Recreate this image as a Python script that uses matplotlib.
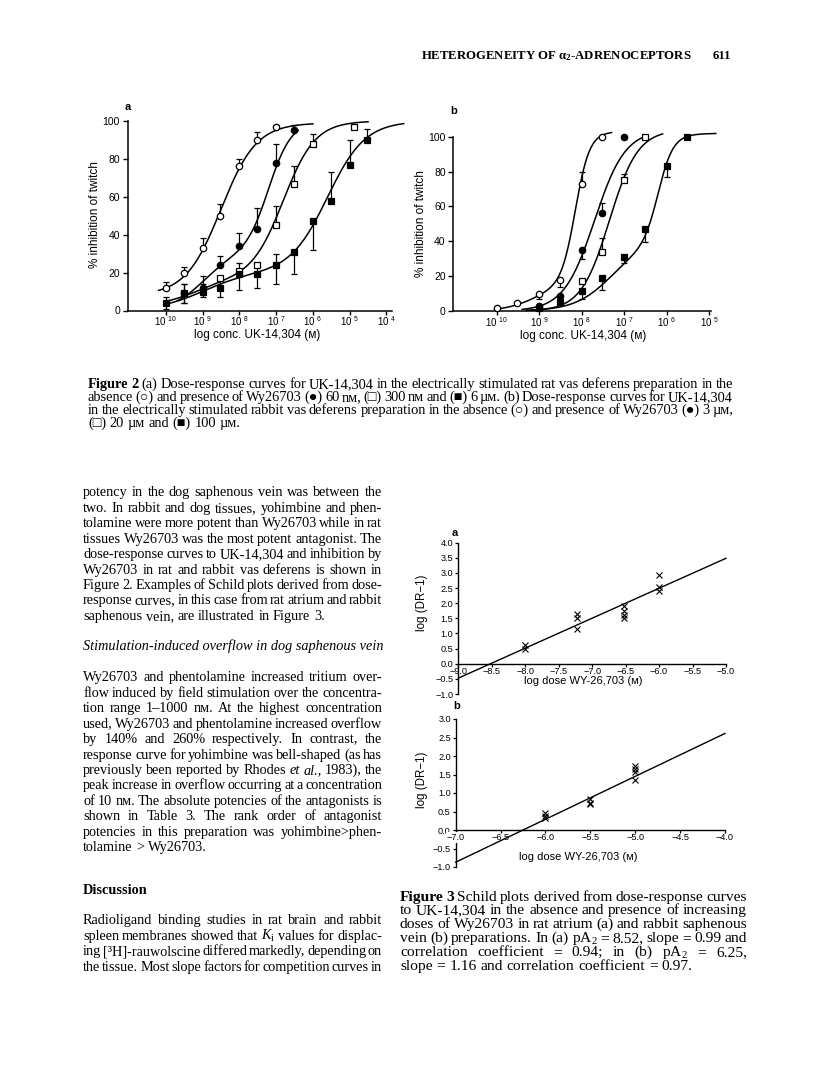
import matplotlib
matplotlib.use('Agg')
import numpy as np
import matplotlib.pyplot as plt
import matplotlib.ticker as mtick

plt.rcParams['font.family'] = ['Liberation Sans', 'DejaVu Sans']
plt.rcParams['mathtext.fontset'] = 'custom'
plt.rcParams['mathtext.rm'] = 'Liberation Serif'
plt.rcParams['mathtext.it'] = 'Liberation Serif:italic'
plt.rcParams['mathtext.bf'] = 'Liberation Serif:bold'
plt.rcParams['mathtext.sf'] = 'Liberation Sans'
SERIF = ['Liberation Serif', 'DejaVu Serif', 'DejaVu Sans']

W, H = 816, 1092

#######################################################################################
# Figure 2a - rat vas deferens (log M, % inhibition)
#######################################################################################
a_ctrl_x = [-10, -9.52, -9, -8.52, -8, -7.52, -7]
a_ctrl_y = [12, 20, 33, 50, 76, 90, 97]
a_ctrl_lo = [0, 0, 0, 0, 0, 0, 0]
a_ctrl_hi = [3, 3, 5, 6, 4, 4, 1]

a_60_x = [-9.52, -9, -8.52, -8, -7.52, -7, -6.52]
a_60_y = [9, 12, 24, 34, 43, 78, 95]
a_60_lo = [5, 3, 0, 0, 0, 0, 0]
a_60_hi = [5, 6, 5, 7, 11, 10, 3]

a_300_x = [-8.52, -8, -7.52, -7, -6.52, -6, -4.88]
a_300_y = [17, 21, 24, 45, 67, 88, 97]
a_300_lo = [0, 0, 0, 0, 0, 0, 0]
a_300_hi = [0, 0, 0, 10, 9, 5, 0]

a_6_x = [-10, -9.52, -9, -8.52, -8, -7.52, -7, -6.52, -6, -5.52, -5, -4.52]
a_6_y = [4, 9, 10, 12, 19, 19, 24, 31, 47, 58, 77, 90]
a_6_lo = [3, 5, 3, 5, 8, 7, 10, 12, 15, 0, 0, 0]
a_6_hi = [3, 5, 4, 6, 6, 6, 6, 0, 0, 15, 13, 6]

# fitted curves: bottom, [(amplitude, log EC50, slope), ...], x range
a_ctrl_fit = (8, [(91, -8.5, 0.9)], (-10.2, -6.0))
a_60_fit = (0, [(30, -9.0, 1.0), (70, -7.2, 1.4)], (-9.7, -6.4))
a_300_fit = (2, [(15, -9.2, 0.8), (83, -6.8, 1.0)], (-10.0, -4.5))
a_6_fit = (0, [(20, -9.0, 0.7), (80, -5.6, 0.85)], (-10.0, -3.53))

#######################################################################################
# Figure 2b - rabbit vas deferens
#######################################################################################
b_ctrl_x = [-10, -9.52, -9, -8.52, -8, -7.52]
b_ctrl_y = [1.5, 4.4, 9.6, 18, 73, 100]
b_ctrl_lo = [0, 0, 2.6, 4, 0, 0]
b_ctrl_hi = [0, 0, 0, 0, 6.5, 0]

b_3_x = [-9, -8.52, -8, -7.52, -7]
b_3_y = [3, 8.6, 35, 56, 100]
b_3_lo = [0, 0, 5, 0, 0]
b_3_hi = [0, 0, 0, 6, 0]

b_20_x = [-8, -7.52, -7, -6.52]
b_20_y = [17, 34, 75, 100]
b_20_lo = [0, 0, 0, 0]
b_20_hi = [0, 8, 3.5, 0]

b_100_x = [-9, -8.52, -8, -7.52, -7, -6.52, -6, -5.52]
b_100_y = [2, 5, 11.5, 18.7, 31, 47, 83, 100]
b_100_lo = [0, 0, 4.5, 6.5, 3.5, 7.5, 6, 0]
b_100_hi = [0, 0, 0, 0, 0, 0, 0, 0]

b_ctrl_fit = (0, [(15, -9.1, 1.2), (88, -8.15, 2.6)], (-10.05, -7.3))
b_3_fit = (0, [(104, -7.7, 1.2)], (-9.4, -6.6))
b_20_fit = (0, [(104, -7.35, 1.3)], (-9.3, -6.1))
b_100_fit = (0, [(40, -7.3, 1.0), (62, -6.2, 2.5)], (-9.3, -4.85))

#######################################################################################
# Figure 3 - Schild plots
#######################################################################################
s_a_x = [-8.0, -8.0, -7.22, -7.22, -7.22, -6.52, -6.52, -6.52, -6.52, -6.0, -6.0, -6.0]
s_a_y = [0.61, 0.49, 1.63, 1.52, 1.14, 1.9, 1.75, 1.6, 1.52, 2.93, 2.55, 2.42]
s_a_pa2, s_a_slope = 8.52, 0.99

s_b_x = [-6.0, -6.0, -6.0, -5.5, -5.5, -5.5, -5.0, -5.0, -5.0, -5.0]
s_b_y = [0.47, 0.37, 0.32, 0.83, 0.74, 0.69, 1.72, 1.64, 1.57, 1.36]
s_b_pa2, s_b_slope = 6.25, 1.16

#######################################################################################
# page text
#######################################################################################
header = r'HETEROGENEITY OF α$_\mathbf{2}$-ADRENOCEPTORS'
page_no = '611'

fig2_caption = [
    "*Figure *2 (a) Dose-response curves for UK-14,304 in the electrically stimulated rat vas deferens preparation in the",
    "absence (○) and presence of Wy26703 (●) 60 nᴍ, (□) 300 nᴍ and (■) 6 µᴍ. (b) Dose-response curves for UK-14,304",
    "in the electrically stimulated rabbit vas deferens preparation in the absence (○) and presence of Wy26703 (●) 3 µᴍ,",
    "(□) 20 µᴍ and (■) 100 µᴍ.",
]
fig3_caption = [
    "*Figure *3 Schild plots derived from dose-response curves",
    "to UK-14,304 in the absence and presence of increasing",
    "doses of Wy26703 in rat atrium (a) and rabbit saphenous",
    "vein (b) preparations. In (a) pA$_2$ = 8.52, slope = 0.99 and",
    "correlation coefficient = 0.94; in (b) pA$_2$ = 6.25,",
    "slope = 1.16 and correlation coefficient = 0.97.",
]
body1 = [
    "potency in the dog saphenous vein was between the",
    "two. In rabbit and dog tissues, yohimbine and phen-",
    "tolamine were more potent than Wy26703 while in rat",
    "tissues Wy26703 was the most potent antagonist. The",
    "dose-response curves to UK-14,304 and inhibition by",
    "Wy26703 in rat and rabbit vas deferens is shown in",
    "Figure 2. Examples of Schild plots derived from dose-",
    "response curves, in this case from rat atrium and rabbit",
    "saphenous vein, are illustrated in Figure 3.",
]
heading1 = "Stimulation-induced overflow in dog saphenous vein"
body2 = [
    "Wy26703 and phentolamine increased tritium over-",
    "flow induced by field stimulation over the concentra-",
    "tion range 1–1000 nᴍ. At the highest concentration",
    "used, Wy26703 and phentolamine increased overflow",
    "by 140% and 260% respectively. In contrast, the",
    "response curve for yohimbine was bell-shaped (as has",
    "previously been reported by Rhodes _et _al., 1983), the",
    "peak increase in overflow occurring at a concentration",
    "of 10 nᴍ. The absolute potencies of the antagonists is",
    "shown in Table 3. The rank order of antagonist",
    "potencies in this preparation was yohimbine>phen-",
    "tolamine > Wy26703.",
]
heading2 = "Discussion"
body3 = [
    "Radioligand binding studies in rat brain and rabbit",
    r"spleen membranes showed that $K_\mathrm{i}$ values for displac-",
    "ing [³H]-rauwolscine differed markedly, depending on",
    "the tissue. Most slope factors for competition curves in",
]

fig = plt.figure(figsize=(W / 100, H / 100), dpi=100)
renderer = fig.canvas.get_renderer()


def add_ax(x0, y0, x1, y1):
    # pixel box (left, top, right, bottom) -> axes
    return fig.add_axes([x0 / W, 1 - y1 / H, (x1 - x0) / W, (y1 - y0) / H])


def ptext(x, y, s, **kw):
    return fig.text(x / W, 1 - y / H, s, **kw)


def hill(x, bottom, parts):
    y = np.full_like(x, bottom, dtype=float)
    for amp, mid, h in parts:
        y += amp / (1 + 10 ** ((mid - x) * h))
    return y


def dose_panel(ax, series, xlim, ticks):
    for x, y, lo, hi, fit, marker, filled in series:
        bottom, parts, (x0, x1) = fit
        xc = np.linspace(x0, x1, 200)
        ax.plot(xc, hill(xc, bottom, parts), color='k', lw=1.1, clip_on=False, zorder=2)
        ax.errorbar(x, y, yerr=[lo, hi], fmt='none', ecolor='k', elinewidth=0.9,
                    capsize=1.9, capthick=0.9, clip_on=False, zorder=3)
        ax.plot(x, y, ls='none', marker=marker, ms=4.6 if marker == 'o' else 4.2,
                mfc='k' if filled else 'white', mec='k', mew=0.9, clip_on=False, zorder=4)
    ax.set_xlim(xlim)
    ax.set_ylim(0, 100)
    for sp in ('top', 'right'):
        ax.spines[sp].set_visible(False)
    for sp in ('left', 'bottom'):
        ax.spines[sp].set_linewidth(1.1)
    ax.set_xticks(ticks)
    ax.set_xticklabels([r'10 $^{\mathsf{%d}}$' % -t for t in ticks])
    ax.set_yticks(range(0, 101, 20))
    ax.tick_params(direction='out', length=3.5, width=1.0, labelsize=7.5, pad=2)
    ax.tick_params(axis='x', labelsize=7, length=3, pad=0.5)


def schild_panel(ax, x, y, pa2, slope, xlim, ylim, xstep, ystep):
    xs = np.array(xlim)
    ax.plot(xs, slope * (xs + pa2), color='k', lw=1.0, clip_on=False)
    ax.plot(x, y, ls='none', marker='x', ms=4.8, mew=0.8, color='k', clip_on=False)
    ax.set_xlim(xlim)
    ax.set_ylim(ylim)
    for sp in ('top', 'right'):
        ax.spines[sp].set_visible(False)
    ax.spines['bottom'].set_position(('data', 0))
    ax.spines['left'].set_linewidth(1.0)
    ax.spines['bottom'].set_linewidth(1.0)
    ax.set_xticks(np.arange(xlim[0], xlim[1] + 0.01, xstep))
    ax.set_yticks(np.arange(ylim[0], ylim[1] + 0.01, ystep))
    fmt = mtick.FuncFormatter(lambda v, p: f'{v:.1f}'.replace('-', '\u2212'))
    ax.xaxis.set_major_formatter(fmt)
    ax.yaxis.set_major_formatter(fmt)
    ax.tick_params(direction='out', length=2.5, width=0.9, labelsize=6.6, pad=1)
    ax.tick_params(axis='x', length=2, pad=0.3)


#######################################################################################
# Figure 2
#######################################################################################
ax = add_ax(127.7, 121, 391.9, 310.5)
dose_panel(ax, [
    (a_ctrl_x, a_ctrl_y, a_ctrl_lo, a_ctrl_hi, a_ctrl_fit, 'o', False),
    (a_60_x, a_60_y, a_60_lo, a_60_hi, a_60_fit, 'o', True),
    (a_300_x, a_300_y, a_300_lo, a_300_hi, a_300_fit, 's', False),
    (a_6_x, a_6_y, a_6_lo, a_6_hi, a_6_fit, 's', True),
], (-11.04, -3.85), range(-10, -3))
ptext(128, 107, 'a', fontsize=8, fontweight='bold', ha='center', va='center')
ptext(95, 215, '% inhibition of twitch', fontsize=8.5, rotation=90, ha='center', va='center')
ptext(257, 335, 'log conc. UK-14,304 (ᴍ)', fontsize=8.5, ha='center', va='center')

ax = add_ax(453.3, 136.7, 710.7, 311)
dose_panel(ax, [
    (b_ctrl_x, b_ctrl_y, b_ctrl_lo, b_ctrl_hi, b_ctrl_fit, 'o', False),
    (b_3_x, b_3_y, b_3_lo, b_3_hi, b_3_fit, 'o', True),
    (b_20_x, b_20_y, b_20_lo, b_20_hi, b_20_fit, 's', False),
    (b_100_x, b_100_y, b_100_lo, b_100_hi, b_100_fit, 's', True),
], (-11.02, -4.97), range(-10, -4))
ptext(454, 111, 'b', fontsize=8, fontweight='bold', ha='center', va='center')
ptext(421, 224, '% inhibition of twitch', fontsize=8.5, rotation=90, ha='center', va='center')
ptext(583, 336, 'log conc. UK-14,304 (ᴍ)', fontsize=8.5, ha='center', va='center')

#######################################################################################
# Figure 3
#######################################################################################
ax = add_ax(458.3, 542.7, 726, 694)
schild_panel(ax, s_a_x, s_a_y, s_a_pa2, s_a_slope, (-9.0, -5.0), (-1.0, 4.0), 0.5, 0.5)
ptext(455, 533, 'a', fontsize=8, fontweight='bold', ha='center', va='center')
ptext(421.7, 603, 'log (DR\u22121)', fontsize=8.3, rotation=90, ha='center', va='center')
ptext(583, 681, 'log dose WY-26,703 (ᴍ)', fontsize=8, ha='center', va='center')

ax = add_ax(455.7, 719, 725, 867)
schild_panel(ax, s_b_x, s_b_y, s_b_pa2, s_b_slope, (-7.0, -4.0), (-1.0, 3.0), 0.5, 0.5)
ax.xaxis.set_zorder(3)
ax.get_xticklabels()[0].set_bbox(dict(fc='white', ec='none', pad=0.5))
ptext(457, 706, 'b', fontsize=8, fontweight='bold', ha='center', va='center')
ptext(421.7, 780, 'log (DR\u22121)', fontsize=8.3, rotation=90, ha='center', va='center')
ptext(578, 857, 'log dose WY-26,703 (ᴍ)', fontsize=8, ha='center', va='center')


#######################################################################################
# justified text
#######################################################################################
def word(w, size):
    kw = dict(fontsize=size, family=SERIF, va='baseline', ha='left')
    if w.startswith('*'):
        w, kw['fontweight'] = w[1:], 'bold'
    elif w.startswith('_'):
        w, kw['fontstyle'] = w[1:], 'italic'
    return fig.text(0, 0, w, **kw)


def natural_width(line, size, space):
    words = line.split()
    tot = 0
    for w in words:
        t = word(w, size)
        tot += t.get_window_extent(renderer).width
        t.remove()
    return tot + (len(words) - 1) * space * size * 100 / 72


def fit_size(lines, width, space=0.13):
    worst = max(natural_width(l, 10, space) for l in lines)
    return 10 * width / worst


def put_line(line, x0, x1, y, size, justify=True):
    arts = [word(w, size) for w in line.split()]
    widths = [a.get_window_extent(renderer).width for a in arts]
    if justify and len(arts) > 1:
        gap = (x1 - x0 - sum(widths)) / (len(arts) - 1)
    else:
        gap = 0.25 * size * 100 / 72
    x = x0
    for a, w in zip(arts, widths):
        a.set_position((x / W, 1 - y / H))
        x += w + gap


def paragraph(lines, x0, x1, y0, dy, size, last_free=True):
    base = 0.23 * size * 100 / 72
    for i, line in enumerate(lines):
        free = last_free and i == len(lines) - 1
        put_line(line, x0, x1, y0 + i * dy + base, size, not free)


# header
ptext(421, 56, header, fontsize=9.2, fontweight='bold', family=SERIF, ha='left', va='center')
ptext(731, 56, page_no, fontsize=9.2, fontweight='bold', family=SERIF, ha='right', va='center')

cap2_size = fit_size(fig2_caption[:-1], 733 - 88, space=0.16)
paragraph(fig2_caption, 88, 733, 385, 13, cap2_size)

cap3_size = fit_size(fig3_caption[:-1], 747 - 400, space=0.2)
paragraph(fig3_caption, 400, 747, 897, 13.8, cap3_size)

body_size = fit_size(body1[:-1] + body2[:-1] + body3, 382 - 83)
paragraph(body1, 83, 382, 493, 15.45, body_size)
ptext(83, 647 + 0.23 * body_size * 100 / 72, heading1, fontsize=body_size, fontstyle='italic',
      family=SERIF, ha='left', va='baseline')
paragraph(body2, 83, 382, 678, 15.45, body_size)
ptext(83, 891 + 0.23 * body_size * 100 / 72, heading2, fontsize=body_size, fontweight='bold',
      family=SERIF, ha='left', va='baseline')
paragraph(body3, 83, 382, 921, 15.45, body_size, last_free=False)

fig.savefig('out.png', dpi=100)
plt.close()
